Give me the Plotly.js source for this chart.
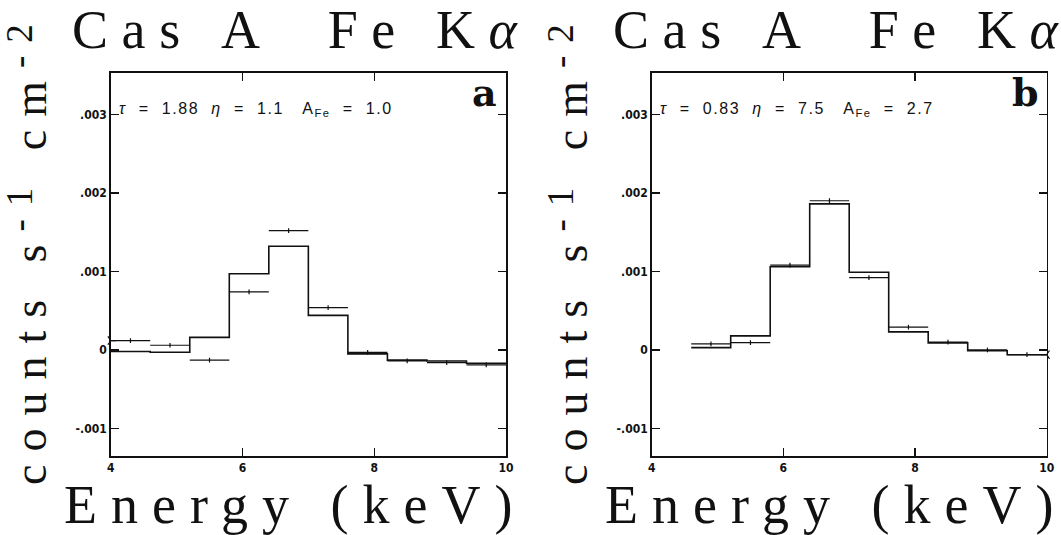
<!DOCTYPE html>
<html>
<head>
<meta charset="utf-8">
<script src="https://cdn.plot.ly/plotly-3.0.1.min.js"></script>
<style>html,body{margin:0;padding:0;background:#fff;}#chart{width:1061px;height:535px;}</style>
</head>
<body>
<div id="chart"></div>
<script>
// ---- data ----
const edgesA = [4.0, 4.6, 5.2, 5.8, 6.4, 7.0, 7.6, 8.2, 8.8, 9.4, 10.0];
const modelA = [-0.00002, -0.00003, 0.00016, 0.00097, 0.00132, 0.00044, -0.00005, -0.00013, -0.00014, -0.00017];
const dataA  = [0.00012, 0.00006, -0.00013, 0.00074, 0.00152, 0.00054, -0.00003, -0.00014, -0.00016, -0.00019];
const errA   = [0.00003, 0.00003, 0.00003, 0.00003, 0.00003, 0.00003, 0.00003, 0.00003, 0.00003, 0.00003];

const edgesB = [4.6, 5.2, 5.8, 6.4, 7.0, 7.6, 8.2, 8.8, 9.4, 10.0];
const modelB = [0.00003, 0.00018, 0.00106, 0.00186, 0.00099, 0.00023, 0.00009, -0.00001, -0.00006];
const dataB  = [0.000077, 0.000094, 0.00108, 0.00190, 0.00092, 0.00029, 0.00010, 0.00000, -0.00006];
const errB   = [0.00003, 0.00003, 0.00003, 0.00003, 0.00003, 0.00003, 0.00003, 0.00003, 0.00003];

const xTicks = [4, 6, 8, 10];
const yTicks = [-0.001, 0, 0.001, 0.002, 0.003];
const yTickText = ['-.001', '0', '.001', '.002', '.003'];

const paramsA = '<i>τ</i>  =  1.88  <i>η</i>  =  1.1   A<sub>Fe</sub>  =  1.0';
const paramsB = '<i>τ</i>  =  0.83  <i>η</i>  =  7.5   A<sub>Fe</sub>  =  2.7';

// ---- helpers ----
function centers(e){ const c=[]; for(let i=0;i<e.length-1;i++) c.push((e[i]+e[i+1])/2); return c; }
function halfw(e){ const h=[]; for(let i=0;i<e.length-1;i++) h.push((e[i+1]-e[i])/2); return h; }
function stepY(v){ return v.concat([v[v.length-1]]); }
function nb(s){ return s.replace(/ /g,'\u00a0'); }

const lineCol = '#111';

function panelTraces(edges, model, data, err, xa, ya){
  return [
    {x: edges, y: stepY(model), mode:'lines', line:{shape:'hv', color:lineCol, width:1.6},
     xaxis:xa, yaxis:ya, hoverinfo:'skip'},
    {x: centers(edges), y: data, mode:'markers', marker:{size:1, color:lineCol},
     error_x:{type:'data', array:halfw(edges), symmetric:true, width:0, thickness:1.2, color:lineCol},
     error_y:{type:'data', array:err, symmetric:true, width:0, thickness:1.2, color:lineCol},
     xaxis:xa, yaxis:ya, hoverinfo:'skip'}
  ];
}

const traces = []
  .concat(panelTraces(edgesA, modelA, dataA, errA, 'x', 'y'))
  .concat(panelTraces(edgesB, modelB, dataB, errB, 'x2', 'y2'));

// arrow heads at the ends of the data bars that reach the frame
traces.push({x:[edgesA[0]], y:[dataA[0]], mode:'markers', xaxis:'x', yaxis:'y', cliponaxis:false,
  marker:{symbol:'y-right', size:7, line:{color:lineCol, width:1.2}, color:lineCol}, hoverinfo:'skip'});
traces.push({x:[edgesB[edgesB.length-1]], y:[dataB[dataB.length-1]], mode:'markers', xaxis:'x2', yaxis:'y2', cliponaxis:false,
  marker:{symbol:'y-left', size:7, line:{color:lineCol, width:1.2}, color:lineCol}, hoverinfo:'skip'});

const W = 1061, H = 535;
const px = v => v / W, py = v => 1 - v / H;

const tickFont = {family:'"DejaVu Sans Condensed", "DejaVu Sans", sans-serif', size:12, color:'#111', weight:'bold'};

function xAxis(dom){
  return {domain:dom, range:[4,10], tickvals:xTicks, ticktext:xTicks.map(String),
    ticks:'inside', ticklen:8, tickwidth:1.4, tickcolor:lineCol,
    showline:true, linecolor:lineCol, linewidth:1.6, mirror:'ticks',
    showgrid:false, zeroline:false, tickfont:tickFont, fixedrange:true};
}
function yAxis(dom, anchor){
  return {domain:dom, anchor:anchor, range:[-0.00135, 0.00353], tickvals:yTicks, ticktext:yTickText,
    ticks:'inside', ticklen:8, tickwidth:1.4, tickcolor:lineCol,
    showline:true, linecolor:lineCol, linewidth:1.6, mirror:'ticks',
    showgrid:false, zeroline:false, tickfont:tickFont, fixedrange:true};
}

const yDom = [py(456), py(72.7)];
const titleFont = {family:'"Liberation Serif", "DejaVu Serif", serif', size:54, color:'#111'};
const ytFont = {family:'"Liberation Serif", "DejaVu Serif", serif', size:46, color:'#111'};
const parFont = {family:'"Liberation Sans", Arial, sans-serif', size:16, color:'#111'};
const tagFont = {family:'"DejaVu Serif", "Liberation Serif", serif', size:38, color:'#111', weight:'bold'};

const supT = s => '<span style="font-size:37px;baseline-shift:14px">' + s + '</span>';

const annotations = [];
[0, 541].forEach((off, i) => {
  annotations.push({xref:'paper', yref:'paper', x:px(70+off), y:py(30), xanchor:'left', yanchor:'middle',
    text:'<span style="letter-spacing:13.6px">'+nb('Cas A  Fe K')+'<i>α</i></span>', showarrow:false, font:titleFont});
  annotations.push({xref:'paper', yref:'paper', x:px(295+off), y:py(505), xanchor:'center', yanchor:'middle',
    text:'<span style="letter-spacing:14px">'+nb('Energy (keV)')+'</span>', showarrow:false, font:titleFont});
  annotations.push({xref:'paper', yref:'paper', x:px(27+off), y:py(248), xanchor:'center', yanchor:'middle', textangle:-90,
    text:'<span style="letter-spacing:13px">'+nb('counts s')+supT('-1')+nb(' cm')+supT('-2')+'</span>', showarrow:false, font:ytFont});
  annotations.push({xref:'paper', yref:'paper', x:px(117+off), y:py(109), xanchor:'left', yanchor:'middle',
    text:'<span style="letter-spacing:1.6px">'+nb(i===0?paramsA:paramsB)+'</span>', showarrow:false, font:parFont});
  annotations.push({xref:'paper', yref:'paper', x:px(484+off), y:py(92), xanchor:'center', yanchor:'middle',
    text: i===0 ? 'a' : 'b', showarrow:false, font:tagFont});
});

const layout = {
  width:W, height:H, margin:{l:0, r:0, t:0, b:0}, showlegend:false,
  paper_bgcolor:'#fff', plot_bgcolor:'#fff',
  xaxis: Object.assign(xAxis([px(110.7), px(506)]), {anchor:'y'}),
  yaxis: yAxis(yDom, 'x'),
  xaxis2: Object.assign(xAxis([px(651.7), px(1046.7)]), {anchor:'y2'}),
  yaxis2: yAxis(yDom, 'x2'),
  annotations: annotations
};

Plotly.newPlot('chart', traces, layout, {staticPlot:true, displayModeBar:false});
</script>
</body>
</html>
